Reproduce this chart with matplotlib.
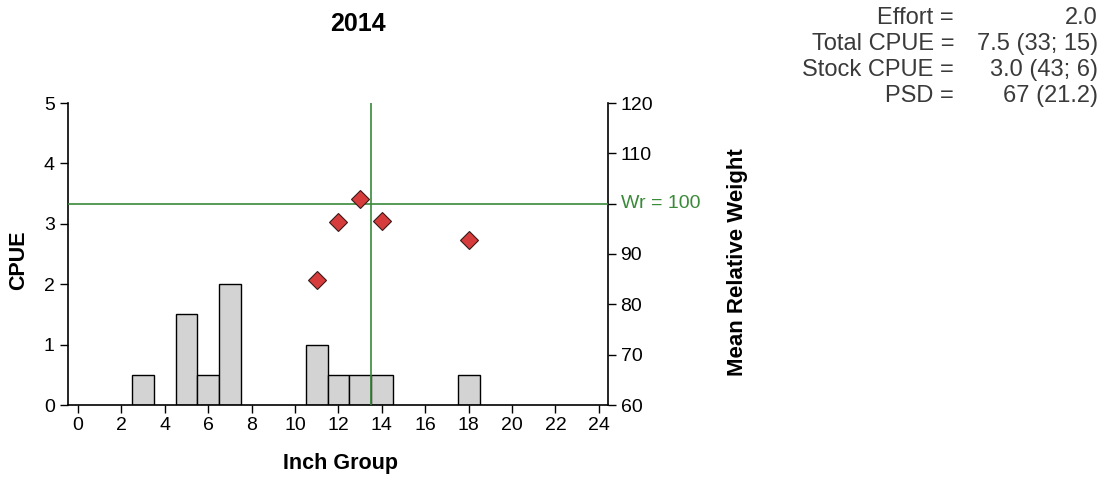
import matplotlib
matplotlib.use("Agg")
import matplotlib.pyplot as plt

plt.rcParams['font.family'] = ['Liberation Sans', 'DejaVu Sans']

# Data
title = "2014"
inch_groups = [3, 5, 6, 7, 11, 12, 13, 14, 18]
cpue = [0.5, 1.5, 0.5, 2.0, 1.0, 0.5, 0.5, 0.5, 0.5]
wr_groups = [11, 12, 13, 14, 18]
wr_values = [84.8, 96.3, 100.9, 96.6, 92.7]
wr_ref = 100
vline_x = 13.5
x_ticks = list(range(0, 25, 2))
right_ticks = [60, 70, 80, 90, 100, 110, 120]
right_tick_labels = ["60", "70", "80", "90", "", "110", "120"]
stat_labels = ["Effort =", "Total CPUE =", "Stock CPUE =", "PSD ="]
stat_values = ["2.0", "7.5 (33; 15)", "3.0 (43; 6)", "67 (21.2)"]

W, H = 1107, 480
fig = plt.figure(figsize=(W / 100, H / 100), dpi=100)
L, R, B, T = 68, 608, 405, 103
ax = fig.add_axes([L / W, 1 - B / H, (R - L) / W, (B - T) / H])
ax2 = ax.twinx()

green = "#3a8a3a"
fs = 14
lfs = 15.5

ax.bar(inch_groups, cpue, width=1.0, color="#d3d3d3", edgecolor="black", linewidth=1.0, zorder=2)
ax.set_xlim(-0.46, 24.42)
ax.set_ylim(0, 5)
ax.set_xticks(x_ticks)
ax.set_yticks(range(0, 6))
ax.tick_params(axis='both', labelsize=fs, length=6, width=1, direction='out', colors='black')
ax.tick_params(axis='x', pad=3)
ax.axvline(vline_x, color=green, linewidth=1.2, zorder=3)

ax2.set_ylim(60, 120)
ax2.set_yticks(right_ticks)
ax2.set_yticklabels(right_tick_labels)
ax2.tick_params(axis='y', labelsize=fs, length=6, width=1, direction='out', pad=3)
ax2.axhline(wr_ref, color=green, linewidth=1.2, zorder=3)
ax2.plot(wr_groups, wr_values, linestyle='none', marker='D', markersize=9,
         markerfacecolor="#d63c3c", markeredgecolor="#3a1a1a", markeredgewidth=0.8, zorder=4)

for a in (ax, ax2):
    a.spines['top'].set_visible(False)
    for s in ('left', 'right', 'bottom'):
        a.spines[s].set_linewidth(1.2)
ax.spines['right'].set_visible(False)
ax2.spines['left'].set_visible(False)
ax2.spines['bottom'].set_visible(False)

fig.text(621 / W, 1 - 204 / H, "Wr = %d" % wr_ref, color=green, fontsize=fs, va='center', ha='left')

fig.text(19 / W, 1 - 260 / H, "CPUE", fontsize=lfs, fontweight='bold', rotation=90,
         ha='center', va='center')
fig.text(737 / W, 1 - 262 / H, "Mean Relative Weight", fontsize=16, fontweight='bold', rotation=90,
         ha='center', va='center')
fig.text(341 / W, 1 - 463 / H, "Inch Group", fontsize=lfs, fontweight='bold',
         ha='center', va='center')

fig.text(358 / W, 1 - 24 / H, title, fontsize=18, fontweight='bold', ha='center', va='center')

ys = [18, 44, 70, 96]
for lab, val, y in zip(stat_labels, stat_values, ys):
    fig.text(954 / W, 1 - y / H, lab, fontsize=17, ha='right', va='center', color='#3a3a3a')
    fig.text(1098 / W, 1 - y / H, val, fontsize=17, ha='right', va='center', color='#3a3a3a')

fig.savefig("out.png", dpi=100)
